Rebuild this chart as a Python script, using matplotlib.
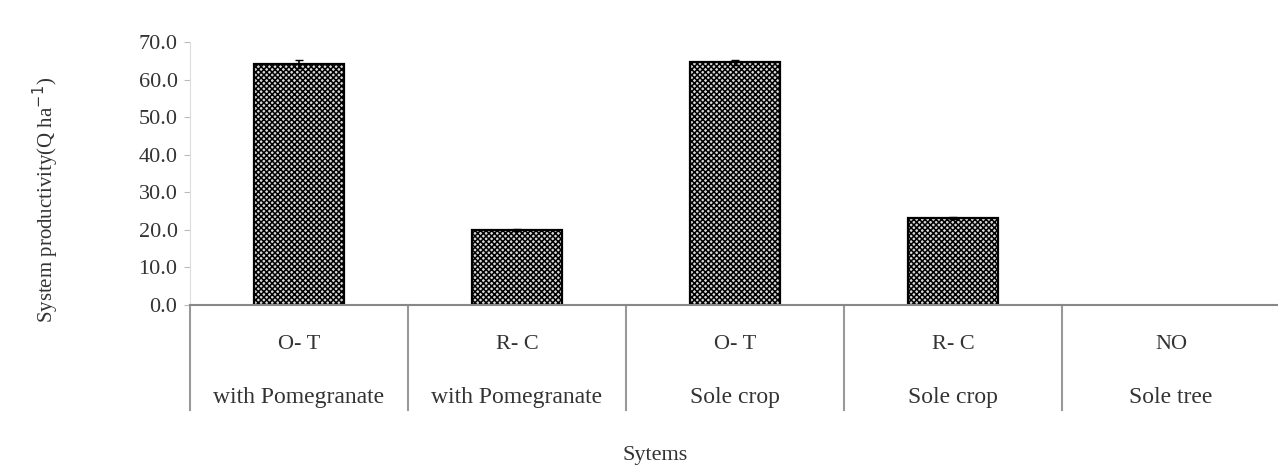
import numpy as np
import matplotlib.pyplot as plt
from matplotlib.lines import Line2D

## Donnees
systemes = ["O- T", "R- C", "O- T", "R- C", "NO"]
groupes = ["with Pomegranate", "with Pomegranate", "Sole crop", "Sole crop", "Sole tree"]
productivite = [64.1, 20.0, 64.6, 23.2, 0.0]
erreur = [1.0, 0.3, 0.6, 0.3, 0.0]
yticks = [0, 10, 20, 30, 40, 50, 60, 70]

plt.rcParams['font.family'] = ['Liberation Serif', 'DejaVu Serif']
plt.rcParams['hatch.linewidth'] = 1.1

fig = plt.figure(figsize=(12.78, 4.73), dpi=100)
ax = fig.add_axes([190/1278, 1-305/473, 1090/1278, 263/473])

x = np.arange(len(systemes))
# pas de contour pour une barre nulle
bords = ['black' if v > 0 else 'none' for v in productivite]
ax.bar(x, productivite, width=0.41, color='#d8d8d8', edgecolor=bords,
       hatch='xxxxxx', linewidth=1.6, zorder=2)
ax.errorbar(x[:4], productivite[:4], yerr=erreur[:4], fmt='none',
            ecolor='black', elinewidth=1.2, capsize=3, zorder=3)

ax.set_xlim(-0.5, 4.5)
ax.set_ylim(0, 70)
ax.set_yticks(yticks)
ax.set_yticklabels([f"{v:.1f}" for v in yticks], fontsize=16, color='#333333')
ax.tick_params(axis='y', length=4, color='#bbbbbb', pad=5)
ax.set_xticks([])

for s in ['top', 'right']:
    ax.spines[s].set_visible(False)
ax.spines['left'].set_color('#dddddd')
ax.spines['bottom'].set_color('#888888')
ax.spines['bottom'].set_linewidth(1.5)

# etiquettes sur deux niveaux
for i in range(len(systemes)):
    ax.text(x[i], -0.15, systemes[i], transform=ax.get_xaxis_transform(),
            ha='center', va='center', fontsize=16, color='#333333')
    ax.text(x[i], -0.35, groupes[i], transform=ax.get_xaxis_transform(),
            ha='center', va='center', fontsize=17, color='#333333')

# separateurs verticaux
for b in np.arange(-0.5, 4.0, 1.0):
    ax.add_line(Line2D([b, b], [0, -0.40], transform=ax.get_xaxis_transform(),
                       color='#999999', lw=1.5, clip_on=False))

ax.set_ylabel("System productivity(Q ha$^{-1}$)", fontsize=15, color='#333333')
ax.yaxis.set_label_coords(-0.118, 0.40)
fig.text(655/1278, 1-455/473, "Sytems", ha='center', va='center',
         fontsize=16, color='#333333')

fig.savefig("out.png", dpi=100)
